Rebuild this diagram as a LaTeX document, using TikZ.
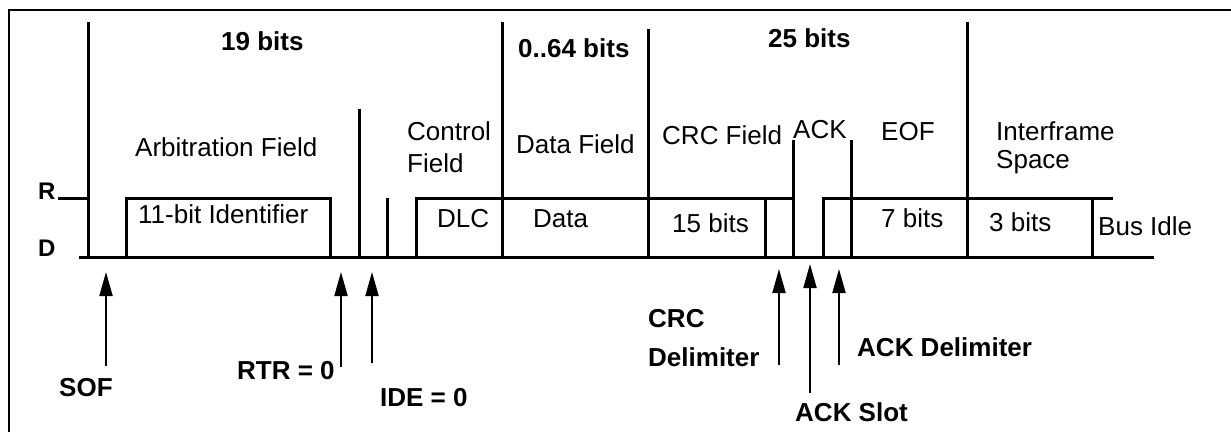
\documentclass[tikz,border=0pt]{standalone}
\usepackage{fontspec}
\setmainfont{Liberation Sans}
\usetikzlibrary{arrows.meta}
\begin{document}
\begin{tikzpicture}[x=1pt,y=-1pt,
  sig/.style={line width=3pt},
  frame/.style={line width=2pt},
  ptr/.style={line width=2pt,-{Triangle[length=24pt,width=13pt]}},
  lab/.style={font=\fontsize{26}{30}\selectfont,inner sep=0pt,anchor=base west},
  blab/.style={font=\fontsize{26}{30}\selectfont\bfseries,inner sep=0pt,anchor=base west},
  lvl/.style={font=\fontsize{24}{28}\selectfont\bfseries,inner sep=0pt,anchor=base west}]
\useasboundingbox (0,0) rectangle (1231,432);
% frame
\draw[frame] (1231,10) -- (9,10) -- (9,432);
% waveform
\draw[sig] (58,198) -- (88,198);
\draw[sig] (88,22) -- (88,257);
\draw[sig] (79,257) -- (1154,257);
\draw[sig] (126,257) -- (126,198) -- (330,198) -- (330,257);
\draw[sig] (359,109) -- (359,257);
\draw[sig] (387,198) -- (387,257);
\draw[sig] (416,257) -- (416,198) -- (793,198);
\draw[sig] (502,22) -- (502,257);
\draw[sig] (648,29) -- (648,257);
\draw[sig] (765,198) -- (765,257);
\draw[sig] (793,140) -- (793,257);
\draw[sig] (851,140) -- (851,257);
\draw[sig] (823,257) -- (823,198) -- (1113,198);
\draw[sig] (967,22) -- (967,257);
\draw[sig] (1092,198) -- (1092,257);
% level labels
\node[lvl] (R) at (38,199) {R};
\node[lvl] (D) at (38,256) {D};
% top labels
\node[blab] (b19) at (221,50) {19 bits};
\node[blab] (b64) at (518,57) {0..64 bits};
\node[blab] (b25) at (768,47) {25 bits};
\node[lab] (arb) at (135,156) {Arbitration Field};
\node[lab] (ctl1) at (407,140) {Control};
\node[lab] (ctl2) at (407,172) {Field};
\node[lab] (dat) at (516,153) {Data Field};
\node[lab] (crc) at (662,144) {CRC Field};
\node[lab] (ack) at (793,138) {ACK};
\node[lab] (eof) at (881,140) {EOF};
\node[lab] (ifs1) at (996,140) {Interframe};
\node[lab] (ifs2) at (996,168) {Space};
\node[lab] (id) at (138,223) {11-bit Identifier};
\node[lab] (dlc) at (437,227) {DLC};
\node[lab] (data) at (533,227) {Data};
\node[lab] (b15) at (672,232) {15 bits};
\node[lab] (b7) at (881,227) {7 bits};
\node[lab] (b3) at (989,231) {3 bits};
\node[lab] (idle) at (1098,235) {Bus Idle};
% bottom labels
\node[blab] (sof) at (59,396) {SOF};
\node[blab] (rtr) at (237,379) {RTR = 0};
\node[blab] (ide) at (380,406) {IDE = 0};
\node[blab] (crcd1) at (648,327) {CRC};
\node[blab] (crcd2) at (648,366) {Delimiter};
\node[blab] (ackd) at (857,356) {ACK Delimiter};
\node[blab] (acks) at (795,421) {ACK Slot};
% arrows
\coordinate (sofA) at (106,366); \coordinate (sofT) at (106,272);
\coordinate (rtrA) at (341,367); \coordinate (rtrT) at (341,272);
\coordinate (ideA) at (372,363); \coordinate (ideT) at (372,272);
\coordinate (cdA) at (779,365);  \coordinate (cdT) at (779,269);
\coordinate (asA) at (810,393);  \coordinate (asT) at (810,264);
\coordinate (adA) at (839,365);  \coordinate (adT) at (839,269);
\draw[ptr] (sofA) -- (sofT);
\draw[ptr] (rtrA) -- (rtrT);
\draw[ptr] (ideA) -- (ideT);
\draw[ptr] (cdA) -- (cdT);
\draw[ptr] (asA) -- (asT);
\draw[ptr] (adA) -- (adT);
\end{tikzpicture}
\end{document}
